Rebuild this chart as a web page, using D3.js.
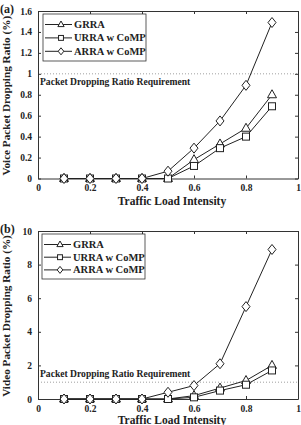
<!DOCTYPE html>
<html>
<head>
<meta charset="utf-8">
<script src="https://cdn.jsdelivr.net/npm/d3@7"></script>
<style>
  body { margin: 0; background: #fff; }
  text { font-family: "Liberation Serif", "DejaVu Serif", serif; font-weight: bold; fill: #222; }
</style>
</head>
<body>
<script>
const loads = [0.1, 0.2, 0.3, 0.4, 0.5, 0.6, 0.7, 0.8, 0.9]
const seriesNames = ["GRRA", "URRA w CoMP", "ARRA w CoMP"]
const markers = ["triangle", "square", "diamond"]

// panel (a) voice
const voiceGRRA = [0, 0, 0, 0, 0, 0.18, 0.33, 0.48, 0.80]
const voiceURRA = [0, 0, 0, 0, 0, 0.12, 0.29, 0.40, 0.69]
const voiceARRA = [0, 0, 0, 0, 0.07, 0.29, 0.55, 0.89, 1.49]
const voiceTicks = [0, 0.2, 0.4, 0.6, 0.8, 1, 1.2, 1.4, 1.6]

// panel (b) video
const videoGRRA = [0, 0, 0, 0, 0, 0.2, 0.65, 1.1, 2.0]
const videoURRA = [0, 0, 0, 0, 0, 0.1, 0.5, 0.85, 1.7]
const videoARRA = [0, 0, 0, 0, 0.4, 0.8, 2.1, 5.5, 8.9]
const videoTicks = [0, 2, 4, 6, 8, 10]

const xTicks = [0, 0.2, 0.4, 0.6, 0.8, 1]
const requirement = 1

const svg = d3.select("body").append("svg")
    .attr("width", 301)
    .attr("height", 425)

function drawMarker(g, type, x, y, s) {
    if (type === "triangle") {
        g.append("path").attr("d", `M${x},${y-5*s}L${x+4.5*s},${y+3*s}L${x-4.5*s},${y+3*s}Z`)
    } else if (type === "square") {
        g.append("rect").attr("x", x-3.5*s).attr("y", y-3.5*s).attr("width", 7*s).attr("height", 7*s)
    } else {
        g.append("path").attr("d", `M${x},${y-5*s}L${x+4*s},${y}L${x},${y+5*s}L${x-4*s},${y}Z`)
    }
}

function panel(opts) {
    const { top, bottom, yMax, yTicks, yFmt, series, label, yTitle, xTitleY, reqBelow, legend } = opts
    const left = 38, right = 298
    const x = d3.scaleLinear().domain([0, 1]).range([left, right])
    const y = d3.scaleLinear().domain([0, yMax]).range([bottom, top])
    const g = svg.append("g")

    // requirement line
    g.append("line")
        .attr("x1", left).attr("x2", right)
        .attr("y1", y(requirement)).attr("y2", y(requirement))
        .attr("stroke", "#888").attr("stroke-width", 0.8)
        .attr("stroke-dasharray", "1,2")
    g.append("text")
        .attr("x", left + 2)
        .attr("y", reqBelow ? y(requirement) + 11 : y(requirement) - 5)
        .attr("font-size", 9.6)
        .text("Packet Dropping Ratio Requirement")

    // axes, ticks inside, box all round
    const axB = g.append("g").attr("transform", `translate(0,${bottom})`)
        .call(d3.axisBottom(x).tickValues(xTicks).tickSizeInner(-3).tickSizeOuter(0).tickPadding(6)
            .tickFormat(d => d === 0 || d === 1 ? d3.format("d")(d) : d3.format(".1f")(d)))
    const axT = g.append("g").attr("transform", `translate(0,${top})`)
        .call(d3.axisTop(x).tickValues(xTicks).tickSizeInner(-3).tickSizeOuter(0).tickFormat(""))
    const axL = g.append("g").attr("transform", `translate(${left},0)`)
        .call(d3.axisLeft(y).tickValues(yTicks).tickSizeInner(-3).tickSizeOuter(0).tickPadding(6).tickFormat(yFmt))
    const axR = g.append("g").attr("transform", `translate(${right},0)`)
        .call(d3.axisRight(y).tickValues(yTicks).tickSizeInner(-3).tickSizeOuter(0).tickFormat(""))
    ;[axB, axT, axL, axR].forEach(a => {
        a.select(".domain").attr("stroke", "#333")
        a.selectAll(".tick line").attr("stroke", "#333")
        a.selectAll("text").attr("font-size", 9.5).attr("fill", "#222")
            .style("font-family", "Liberation Serif, serif").style("font-weight", "bold")
    })

    // lines
    const line = d3.line().x((d, i) => x(loads[i])).y(d => y(d))
    series.forEach((s, k) => {
        g.append("path").datum(s)
            .attr("d", line)
            .attr("fill", "none").attr("stroke", "#222").attr("stroke-width", 1)
        const mg = g.append("g").attr("fill", "#fff").attr("stroke", "#222").attr("stroke-width", 1)
        s.forEach((v, i) => drawMarker(mg, markers[k], x(loads[i]), y(v), 1))
    })

    // legend
    const lg = g.append("g")
    lg.append("rect")
        .attr("x", legend.x).attr("y", legend.y)
        .attr("width", 103).attr("height", legend.h)
        .attr("fill", "#fff").attr("stroke", "#333").attr("stroke-width", 0.8)
    seriesNames.forEach((name, k) => {
        const ly = legend.y + 10.5 + k * legend.step
        lg.append("line").attr("x1", legend.x + 2).attr("x2", legend.x + 29)
            .attr("y1", ly).attr("y2", ly).attr("stroke", "#222").attr("stroke-width", 1)
        const mg = lg.append("g").attr("fill", "#fff").attr("stroke", "#222").attr("stroke-width", 1)
        drawMarker(mg, markers[k], legend.x + 18, ly, 0.7)
        lg.append("text").attr("x", legend.x + 31).attr("y", ly + 3.5)
            .attr("font-size", 10.5).text(name)
    })

    // titles
    g.append("text")
        .attr("transform", `translate(10,${(top + bottom) / 2 + 1}) rotate(-90)`)
        .attr("text-anchor", "middle").attr("font-size", 11.2)
        .text(yTitle)
    g.append("text")
        .attr("x", (left + right) / 2 + 4).attr("y", xTitleY)
        .attr("text-anchor", "middle").attr("font-size", 11.5)
        .text("Traffic Load Intensity")
    g.append("text")
        .attr("x", 0).attr("y", top + 2)
        .attr("font-size", 12).text(label)
}

panel({
    top: 11, bottom: 178.5, yMax: 1.6, yTicks: voiceTicks,
    yFmt: d => d === 0 || d === 1 ? d3.format("d")(d) : d3.format(".1f")(d),
    series: [voiceGRRA, voiceURRA, voiceARRA],
    label: "(a)", yTitle: "Voice Packet Dropping Ratio (%)", xTitleY: 205,
    reqBelow: true, legend: { x: 43, y: 14, h: 47, step: 13.4 }
})

panel({
    top: 231, bottom: 399, yMax: 10, yTicks: videoTicks,
    yFmt: d3.format("d"),
    series: [videoGRRA, videoURRA, videoARRA],
    label: "(b)", yTitle: "Video Packet Dropping Ratio (%)", xTitleY: 424,
    reqBelow: false, legend: { x: 42, y: 234, h: 45, step: 12.7 }
})
</script>
</body>
</html>
